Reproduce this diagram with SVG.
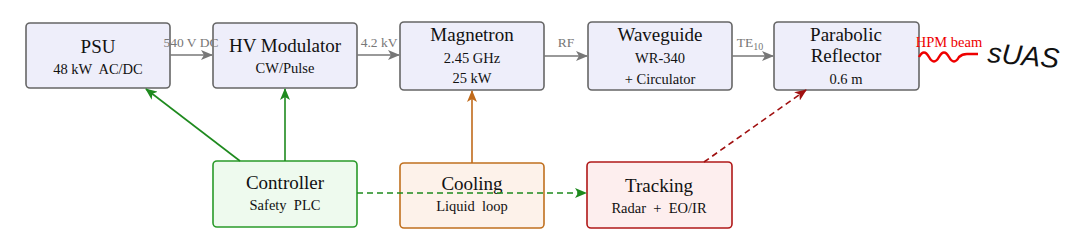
<svg xmlns="http://www.w3.org/2000/svg" width="1080" height="241" viewBox="0 0 1080 241">
<defs>
<style>
text{font-family:"Liberation Serif","DejaVu Serif",serif;text-anchor:middle;fill:#111;white-space:pre}
.t{font-size:19px}
.s{font-size:14.5px}
.lbl{font-size:13.5px;fill:#777}
.top rect{fill:#eeeefa;stroke:#666;stroke-width:1.6}
.conn line{stroke-width:1.6;fill:none}
</style>
<marker id="ag" viewBox="0 0 12 10" refX="11" refY="5" markerWidth="12" markerHeight="10" markerUnits="userSpaceOnUse" orient="auto"><path d="M0,0 L12,5 L0,10 L3,5 z" fill="#777"/></marker>
<marker id="agr" viewBox="0 0 12 10" refX="11" refY="5" markerWidth="12" markerHeight="10" markerUnits="userSpaceOnUse" orient="auto"><path d="M0,0 L12,5 L0,10 L3,5 z" fill="#1e8a1e"/></marker>
<marker id="aor" viewBox="0 0 12 10" refX="11" refY="5" markerWidth="12" markerHeight="10" markerUnits="userSpaceOnUse" orient="auto"><path d="M0,0 L12,5 L0,10 L3,5 z" fill="#c06a1a"/></marker>
<marker id="ard" viewBox="0 0 12 10" refX="11" refY="5" markerWidth="12" markerHeight="10" markerUnits="userSpaceOnUse" orient="auto"><path d="M0,0 L12,5 L0,10 L3,5 z" fill="#a01010"/></marker>
</defs>
<rect width="1080" height="241" fill="#fff"/>
<g id="psu" class="top"><rect x="26" y="23" width="144" height="65" rx="4"/><text class="t" x="98" y="53">PSU</text><text class="s" x="98" y="74">48 kW  AC/DC</text></g>
<g id="hvmod" class="top"><rect x="213" y="23" width="144" height="65" rx="4"/><text class="t" x="285" y="52">HV Modulator</text><text class="s" x="285" y="73">CW/Pulse</text></g>
<g id="magnetron" class="top"><rect x="400" y="22" width="144" height="68" rx="4"/><text class="t" x="472" y="41">Magnetron</text><text class="s" x="472" y="63">2.45 GHz</text><text class="s" x="472" y="83">25 kW</text></g>
<g id="waveguide" class="top"><rect x="588" y="22" width="144" height="68" rx="4"/><text class="t" x="660" y="41">Waveguide</text><text class="s" x="660" y="63">WR-340</text><text class="s" x="660" y="84">+ Circulator</text></g>
<g id="reflector" class="top"><rect x="774" y="22" width="145" height="68" rx="4"/><text class="t" x="846" y="41">Parabolic</text><text class="t" x="846" y="62">Reflector</text><text class="s" x="846" y="84">0.6 m</text></g>
<g id="controller"><rect x="213" y="161" width="144" height="66" rx="4" fill="#eefaee" stroke="#2a9a2a" stroke-width="1.6"/><text class="t" x="285" y="189">Controller</text><text class="s" x="285" y="210">Safety  PLC</text></g>
<g id="cooling"><rect x="400" y="163" width="144" height="65" rx="4" fill="#fdf2ea" stroke="#c0701f" stroke-width="1.6"/><text class="t" x="472" y="190">Cooling</text><text class="s" x="472" y="211">Liquid  loop</text></g>
<g id="tracking"><rect x="587" y="162" width="145" height="66" rx="4" fill="#fdeeee" stroke="#b01818" stroke-width="1.6"/><text class="t" x="659" y="192">Tracking</text><text class="s" x="659" y="213">Radar  +  EO/IR</text></g>
<g id="target"><text x="987" y="62" transform="rotate(5 987 62)" style="font-family:'Liberation Sans','DejaVu Sans',sans-serif;font-style:italic;font-size:28px;text-anchor:start;fill:#111">sUAS</text></g>
<g id="connectors" class="conn">
<line x1="170" y1="55" x2="212" y2="55" stroke="#777" marker-end="url(#ag)"/>
<line x1="357" y1="55" x2="399" y2="55" stroke="#777" marker-end="url(#ag)"/>
<line x1="544" y1="56" x2="587" y2="56" stroke="#777" marker-end="url(#ag)"/>
<line x1="732" y1="56" x2="773" y2="56" stroke="#777" marker-end="url(#ag)"/>
<text class="lbl" x="191" y="47">540 V DC</text>
<text class="lbl" x="379" y="47">4.2 kV</text>
<text class="lbl" x="566" y="47">RF</text>
<text class="lbl" x="750" y="47">TE<tspan font-size="10" dy="3">10</tspan></text>
<line x1="240" y1="161" x2="146" y2="89" stroke="#1e8a1e" marker-end="url(#agr)"/>
<line x1="285" y1="161" x2="285" y2="89" stroke="#1e8a1e" marker-end="url(#agr)"/>
<line x1="472" y1="163" x2="472" y2="91" stroke="#c06a1a" marker-end="url(#aor)"/>
<line x1="357" y1="193" x2="586" y2="193" stroke="#1e8a1e" stroke-dasharray="6,4" marker-end="url(#agr)"/>
<line x1="704" y1="162" x2="806" y2="90" stroke="#a01010" stroke-dasharray="6,4" marker-end="url(#ard)"/>
<path d="M919,57 q5,-9 10,0 t10,0 t10,0 t10,0 q3,-3 8,-3 L978,54" fill="none" stroke="#e00" stroke-width="2.5"/>
<text x="949" y="47" style="font-size:14.5px;fill:#e00">HPM beam</text>
</g>
</svg>
